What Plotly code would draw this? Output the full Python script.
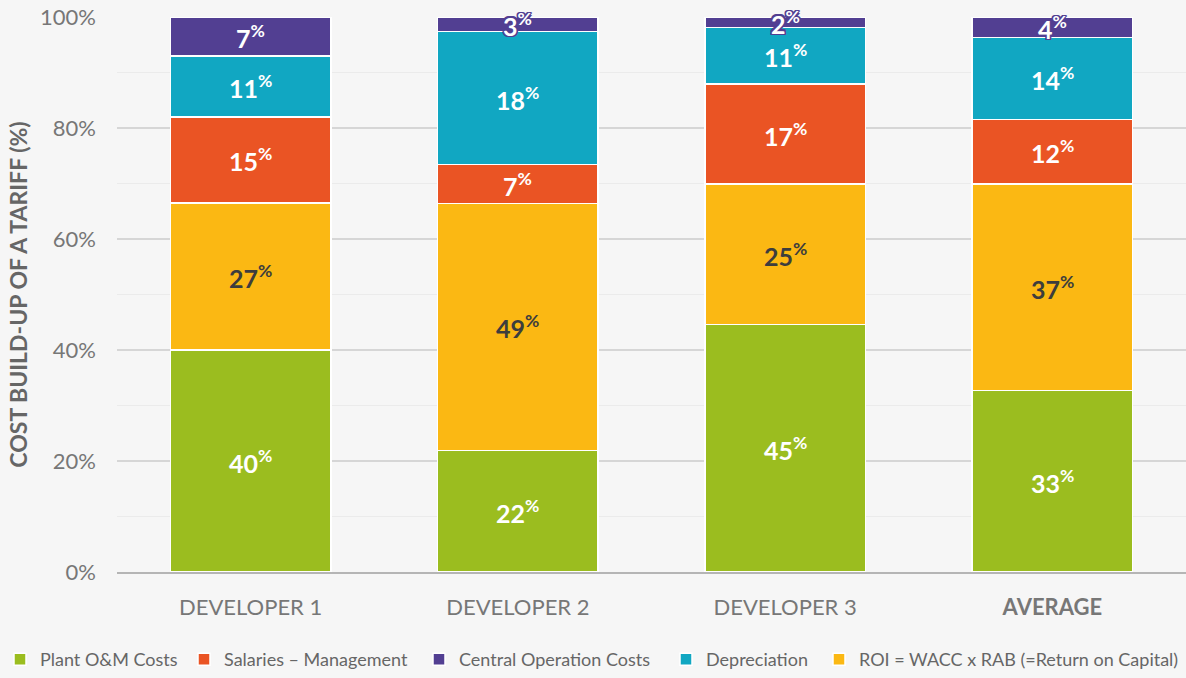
import plotly.graph_objects as go
import numpy as np

categories = ["DEVELOPER 1", "DEVELOPER 2", "DEVELOPER 3", "AVERAGE"]
tick_labels = ["DEVELOPER 1", "DEVELOPER 2", "DEVELOPER 3", "<b>AVERAGE</b>"]

# segment heights (%) as drawn, stack order bottom -> top
plant_om = [40.0, 21.9, 44.6, 32.7]
roi = [26.5, 44.5, 25.3, 37.2]
salaries = [15.5, 7.0, 18.0, 11.6]
depreciation = [11.0, 24.0, 10.2, 14.8]
central_ops = [7.0, 2.6, 1.9, 3.7]

# printed labels (%)
plant_om_lbl = [40, 22, 45, 33]
roi_lbl = [27, 49, 25, 37]
salaries_lbl = [15, 7, 17, 12]
depreciation_lbl = [11, 18, 11, 14]
central_ops_lbl = [7, 3, 2, 4]

# name, heights, labels, colour, label colour, legend id, legend text left edge (px)
series = [
    ("Plant O&M Costs", plant_om, plant_om_lbl, "#9bbd1f", "white", "legend", 36),
    ("ROI = WACC x RAB (=Return on Capital)", roi, roi_lbl, "#fbb813", "#3d3d3d", "legend5", 859),
    ("Salaries – Management", salaries, salaries_lbl, "#ea5424", "white", "legend2", 224),
    ("Depreciation", depreciation, depreciation_lbl, "#11a7c2", "white", "legend4", 706),
    ("Central Operation Costs", central_ops, central_ops_lbl, "#523f92", "white", "legend3", 459),
]

W, H = 1186, 678
FONT = "Lato, 'Open Sans', sans-serif"
fig = go.Figure()
base = np.zeros(len(categories))
annotations = []
legends = {}
for name, vals, lbls, color, tcolor, leg, text_x in series:
    fig.add_trace(go.Bar(
        x=categories, y=vals, name=name, width=0.6,
        marker=dict(color=color, line=dict(color="white", width=1.5)),
        legend=leg, hoverinfo="skip",
    ))
    legends[leg] = dict(
        orientation="h", xref="container", yref="container",
        x=max(text_x - 40, 0) / W, y=-0.016, xanchor="left", yanchor="bottom",
        font=dict(family=FONT, size=18, color="#666666"),
        itemwidth=30, bgcolor="rgba(0,0,0,0)", borderwidth=0,
    )
    for i, (v, l) in enumerate(zip(vals, lbls)):
        center = base[i] + v / 2
        font = dict(family=FONT, size=25, color=tcolor)
        if v < 5:
            s = "#523f92"
            font["shadow"] = (f"-1.5px -1.5px 0 {s}, 1.5px -1.5px 0 {s}, -1.5px 1.5px 0 {s}, "
                              f"1.5px 1.5px 0 {s}, 0 1.5px 0 {s}, 0 -1.5px 0 {s}, 1.5px 0 0 {s}, -1.5px 0 0 {s}")
        annotations.append(dict(
            x=categories[i], y=center, xref="x", yref="y",
            text=f"<b>{l}<sup>%</sup></b>", showarrow=False,
            font=font, xanchor="center", yanchor="middle",
        ))
    base += np.array(vals)

fig.update_layout(
    barmode="stack",
    width=W, height=H,
    margin=dict(l=117, r=0, t=17, b=106, autoexpand=False),
    paper_bgcolor="#f6f6f6", plot_bgcolor="#f6f6f6",
    font=dict(family=FONT, color="#777777"),
    annotations=annotations,
    showlegend=True,
    **legends,
)
fig.update_xaxes(
    tickvals=categories, ticktext=tick_labels,
    tickfont=dict(family=FONT, size=22, color="#777777"),
    showline=True, linecolor="#b5b5b5", linewidth=2,
    showgrid=False, ticks="", ticklabelstandoff=15, automargin=False,
)
fig.update_yaxes(
    range=[0, 100], tickvals=[0, 20, 40, 60, 80, 100],
    ticktext=["0%", "20%", "40%", "60%", "80%", "100%"],
    tickfont=dict(family=FONT, size=22, color="#777777"),
    showgrid=True, gridcolor="#d6d6d6", gridwidth=2,
    minor=dict(dtick=10, showgrid=True, gridcolor="#ebebeb", gridwidth=1),
    zeroline=False, ticks="", ticklabelstandoff=20, automargin=False,
    title=dict(text="<b>COST BUILD-UP OF A TARIFF (%)</b>",
               font=dict(family=FONT, size=23, color="#666666"), standoff=6),
)
fig.write_html(
    "out.html",
    config={"displayModeBar": False},
    post_script="document.body.style.margin='0';document.body.style.overflow='hidden';",
)
